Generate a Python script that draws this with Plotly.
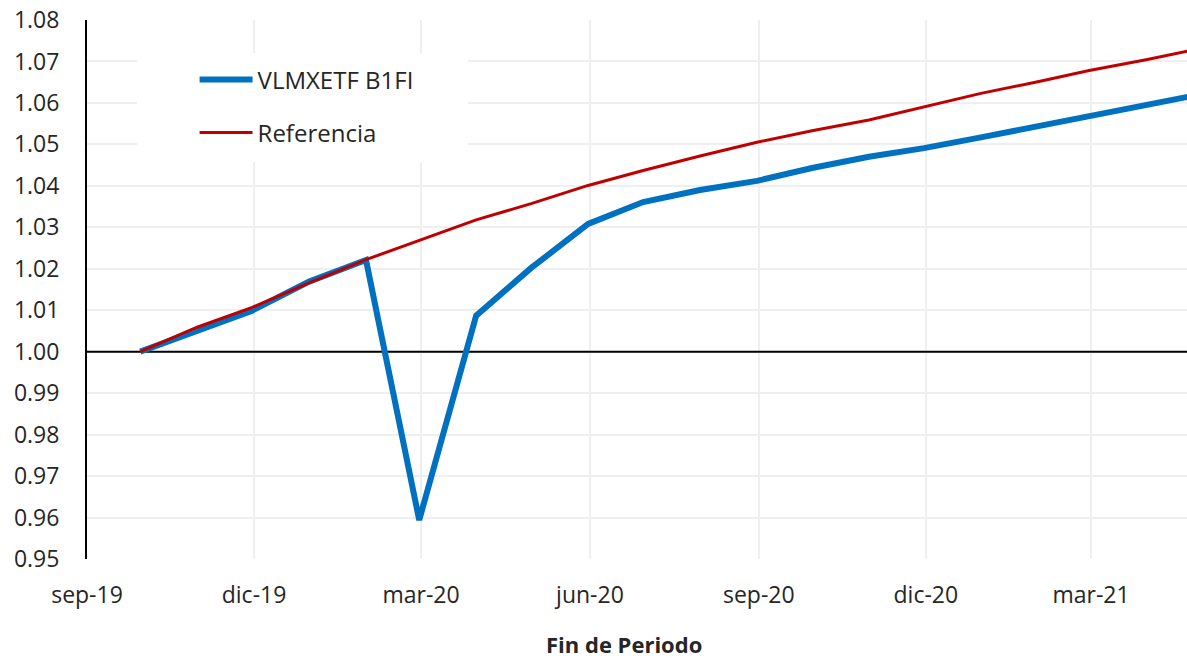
import plotly.graph_objects as go

# ---- data ----
dates = [
    "2019-09-30", "2019-10-31", "2019-11-30", "2019-12-31", "2020-01-31",
    "2020-02-29", "2020-03-31", "2020-04-30", "2020-05-31", "2020-06-30",
    "2020-07-31", "2020-08-31", "2020-09-30", "2020-10-31", "2020-11-30",
    "2020-12-31", "2021-01-31", "2021-02-28", "2021-03-31", "2021-04-30",
]
fund_name = "VLMXETF B1FI"
fund_values = [
    1.0000, 1.0049, 1.0099, 1.0169, 1.0221,
    0.9594, 1.0087, 1.0202, 1.0308, 1.0361,
    1.0390, 1.0412, 1.0443, 1.0470, 1.0491,
    1.0517, 1.0543, 1.0569, 1.0595, 1.0621,
]
ref_name = "Referencia"
ref_values = [
    1.0000, 1.0059, 1.0107, 1.0166, 1.0222,
    1.0268, 1.0318, 1.0357, 1.0401, 1.0437,
    1.0472, 1.0505, 1.0533, 1.0559, 1.0590,
    1.0623, 1.0651, 1.0678, 1.0704, 1.0732,
]
tick_dates = ["2019-09-01", "2019-12-01", "2020-03-01", "2020-06-01",
              "2020-09-01", "2020-12-01", "2021-03-01"]
tick_labels = ["sep-19", "dic-19", "mar-20", "jun-20", "sep-20", "dic-20", "mar-21"]
x_range = ["2019-09-01", "2021-04-22 07:00"]
y_range = [0.95, 1.08]
baseline = 1.0
x_title = "Fin de Periodo"

FONT = "Open Sans"
TXT = "#262626"

fig = go.Figure()
# horizontal axis crossing at 1.00 (drawn first so the series sit on top)
fig.add_trace(go.Scatter(
    x=x_range, y=[baseline, baseline], mode="lines", showlegend=False,
    hoverinfo="skip", line=dict(color="#000000", width=2),
))
fig.add_trace(go.Scatter(
    x=dates, y=fund_values, name=fund_name, mode="lines",
    line=dict(color="#0070C0", width=6), legend="legend",
))
fig.add_trace(go.Scatter(
    x=dates, y=ref_values, name=ref_name, mode="lines",
    line=dict(color="#C00000", width=3), legend="legend2",
))

# white legend backdrop (masks gridlines like the Excel legend box)
fig.add_shape(type="rect", xref="paper", yref="paper",
              x0=0.0455, x1=0.3464, y0=0.7365, y1=0.9388,
              fillcolor="white", line=dict(width=0), layer="above")

fig.update_layout(
    width=1187, height=658,
    margin=dict(l=87, r=0, t=20, b=99),
    paper_bgcolor="white", plot_bgcolor="white",
    font=dict(family=FONT, size=22, color=TXT),
    showlegend=True,
    legend=dict(x=0.0978, y=0.8887, xanchor="left", yanchor="middle",
                bgcolor="rgba(0,0,0,0)", font=dict(size=24, color=TXT),
                itemwidth=53),
    legend2=dict(x=0.0978, y=0.7904, xanchor="left", yanchor="middle",
                 bgcolor="rgba(0,0,0,0)", font=dict(size=24, color=TXT),
                 itemwidth=53),
    annotations=[dict(text="<b>" + x_title + "</b>", xref="paper", yref="paper",
                      x=0.488, y=-0.158, yanchor="middle", showarrow=False,
                      font=dict(family=FONT, size=22, color=TXT))],
)
fig.update_xaxes(
    type="date", range=x_range, tickvals=tick_dates, ticktext=tick_labels,
    showgrid=True, gridcolor="#EFEFEF", gridwidth=2,
    showline=False, zeroline=False, ticks="", ticklabelstandoff=20,
    tickfont=dict(size=23, color=TXT),
)
fig.update_yaxes(
    range=y_range, dtick=0.01, tickformat=".2f",
    showgrid=True, gridcolor="#EFEFEF", gridwidth=2,
    showline=True, linecolor="#000000", linewidth=2, zeroline=False,
    ticks="", ticklabelstandoff=21, tickfont=dict(size=23, color=TXT),
)

fig.write_html("out.html", config={"displayModeBar": False},
               post_script="document.body.style.margin='0';")
